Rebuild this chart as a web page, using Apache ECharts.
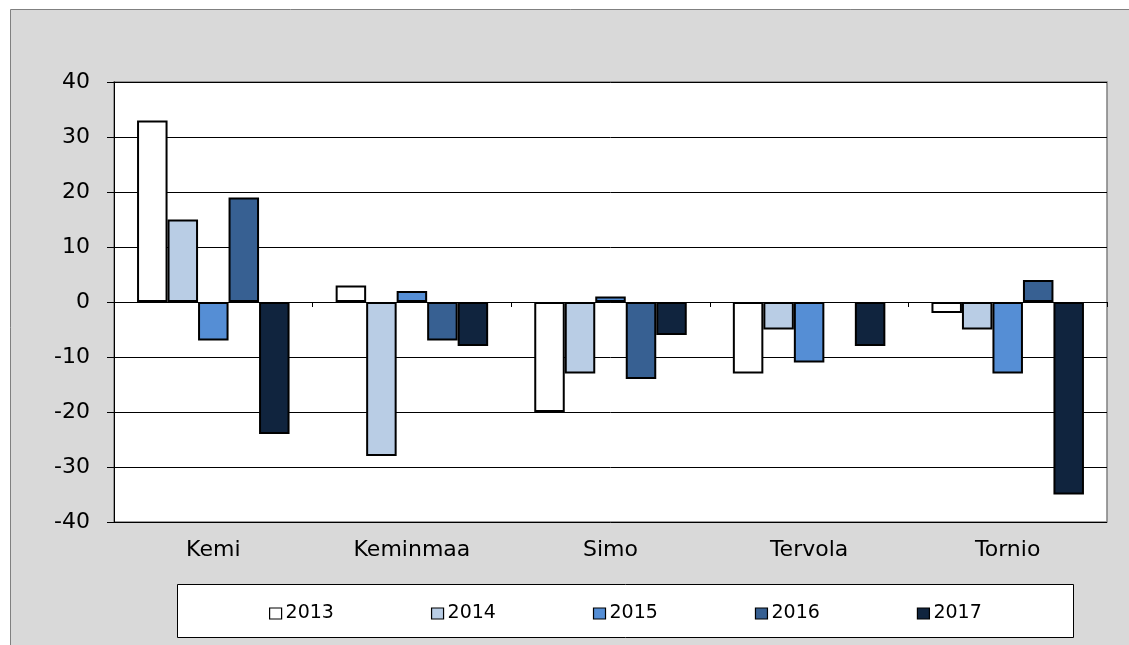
<!DOCTYPE html>
<html>
<head>
<meta charset="utf-8">
<script src="https://cdn.jsdelivr.net/npm/echarts@6/dist/echarts.min.js"></script>
<style>
html,body{margin:0;padding:0;background:#fff;}
#chart{width:1129px;height:645px;}
</style>
</head>
<body>
<div id="chart"></div>
<script>
var categories = ['Kemi', 'Keminmaa', 'Simo', 'Tervola', 'Tornio'];
var years = ['2013', '2014', '2015', '2016', '2017'];
var v2013 = [33, 3, -20, -13, -2];
var v2014 = [15, -28, -13, -5, -5];
var v2015 = [-7, 2, 1, -11, -13];
var v2016 = [19, -7, -14, null, 4];
var v2017 = [-24, -8, -6, -8, -35];
var colors = ['#ffffff', '#b9cde5', '#558ed5', '#376092', '#10243e'];
var yTicks = [-40, -30, -20, -10, 0, 10, 20, 30, 40];

var seriesValues = [v2013, v2014, v2015, v2016, v2017];
var FONT = 'DejaVu Sans';

var chart = echarts.init(document.getElementById('chart'), null, {renderer: 'canvas'});
var series = years.map(function (y, i) {
  return {
    name: y,
    type: 'bar',
    xAxisIndex: 0,
    data: seriesValues[i],
    barWidth: 30.5,
    barGap: '0%',
    itemStyle: {color: colors[i], borderColor: '#000', borderWidth: 2},
    emphasis: {disabled: true},
    animation: false
  };
});

chart.setOption({
  backgroundColor: '#ffffff',
  animation: false,
  graphic: [
    {type: 'rect', z: -10, silent: true, shape: {x: 10.5, y: 9.5, width: 1200, height: 700},
     style: {fill: '#d9d9d9', stroke: '#808080', lineWidth: 1}},
    {type: 'rect', z: -5, silent: true, shape: {x: 177.5, y: 584.5, width: 896, height: 53},
     style: {fill: '#ffffff', stroke: '#000000', lineWidth: 1}}
  ],
  grid: {left: 114, top: 82, right: 22, bottom: 123, show: true,
         backgroundColor: '#ffffff', borderColor: '#808080', borderWidth: 1.5},
  legend: {
    data: years,
    left: 269,
    top: 604,
    padding: 0,
    itemWidth: 12,
    itemHeight: 11,
    itemGap: 97,
    icon: 'rect',
    textStyle: {fontFamily: FONT, fontSize: 19, color: '#000', padding: [0, 0, 0, -1]},
    itemStyle: {borderColor: '#000', borderWidth: 1.2}
  },
  xAxis: [
    {
      type: 'category',
      data: categories,
      position: 'bottom',
      axisLine: {show: false, onZero: false},
      axisTick: {show: false},
      splitLine: {show: false},
      axisLabel: {fontFamily: FONT, fontSize: 22, color: '#000', margin: 17}
    },
    {
      type: 'category',
      data: categories,
      position: 'top',
      axisLine: {show: true, onZero: true, lineStyle: {color: '#000', width: 1}},
      axisTick: {show: true, inside: true, length: 5, lineStyle: {color: '#000'}},
      axisLabel: {show: false},
      splitLine: {show: false}
    }
  ],
  yAxis: {
    type: 'value',
    min: yTicks[0],
    max: yTicks[yTicks.length - 1],
    interval: 10,
    axisLine: {show: true, lineStyle: {color: '#000', width: 1}},
    axisTick: {show: true, length: 7, lineStyle: {color: '#000'}},
    splitLine: {show: true, lineStyle: {color: '#000', width: 1}},
    axisLabel: {fontFamily: FONT, fontSize: 22, color: '#000', margin: 24}
  },
  series: series
});
</script>
</body>
</html>
